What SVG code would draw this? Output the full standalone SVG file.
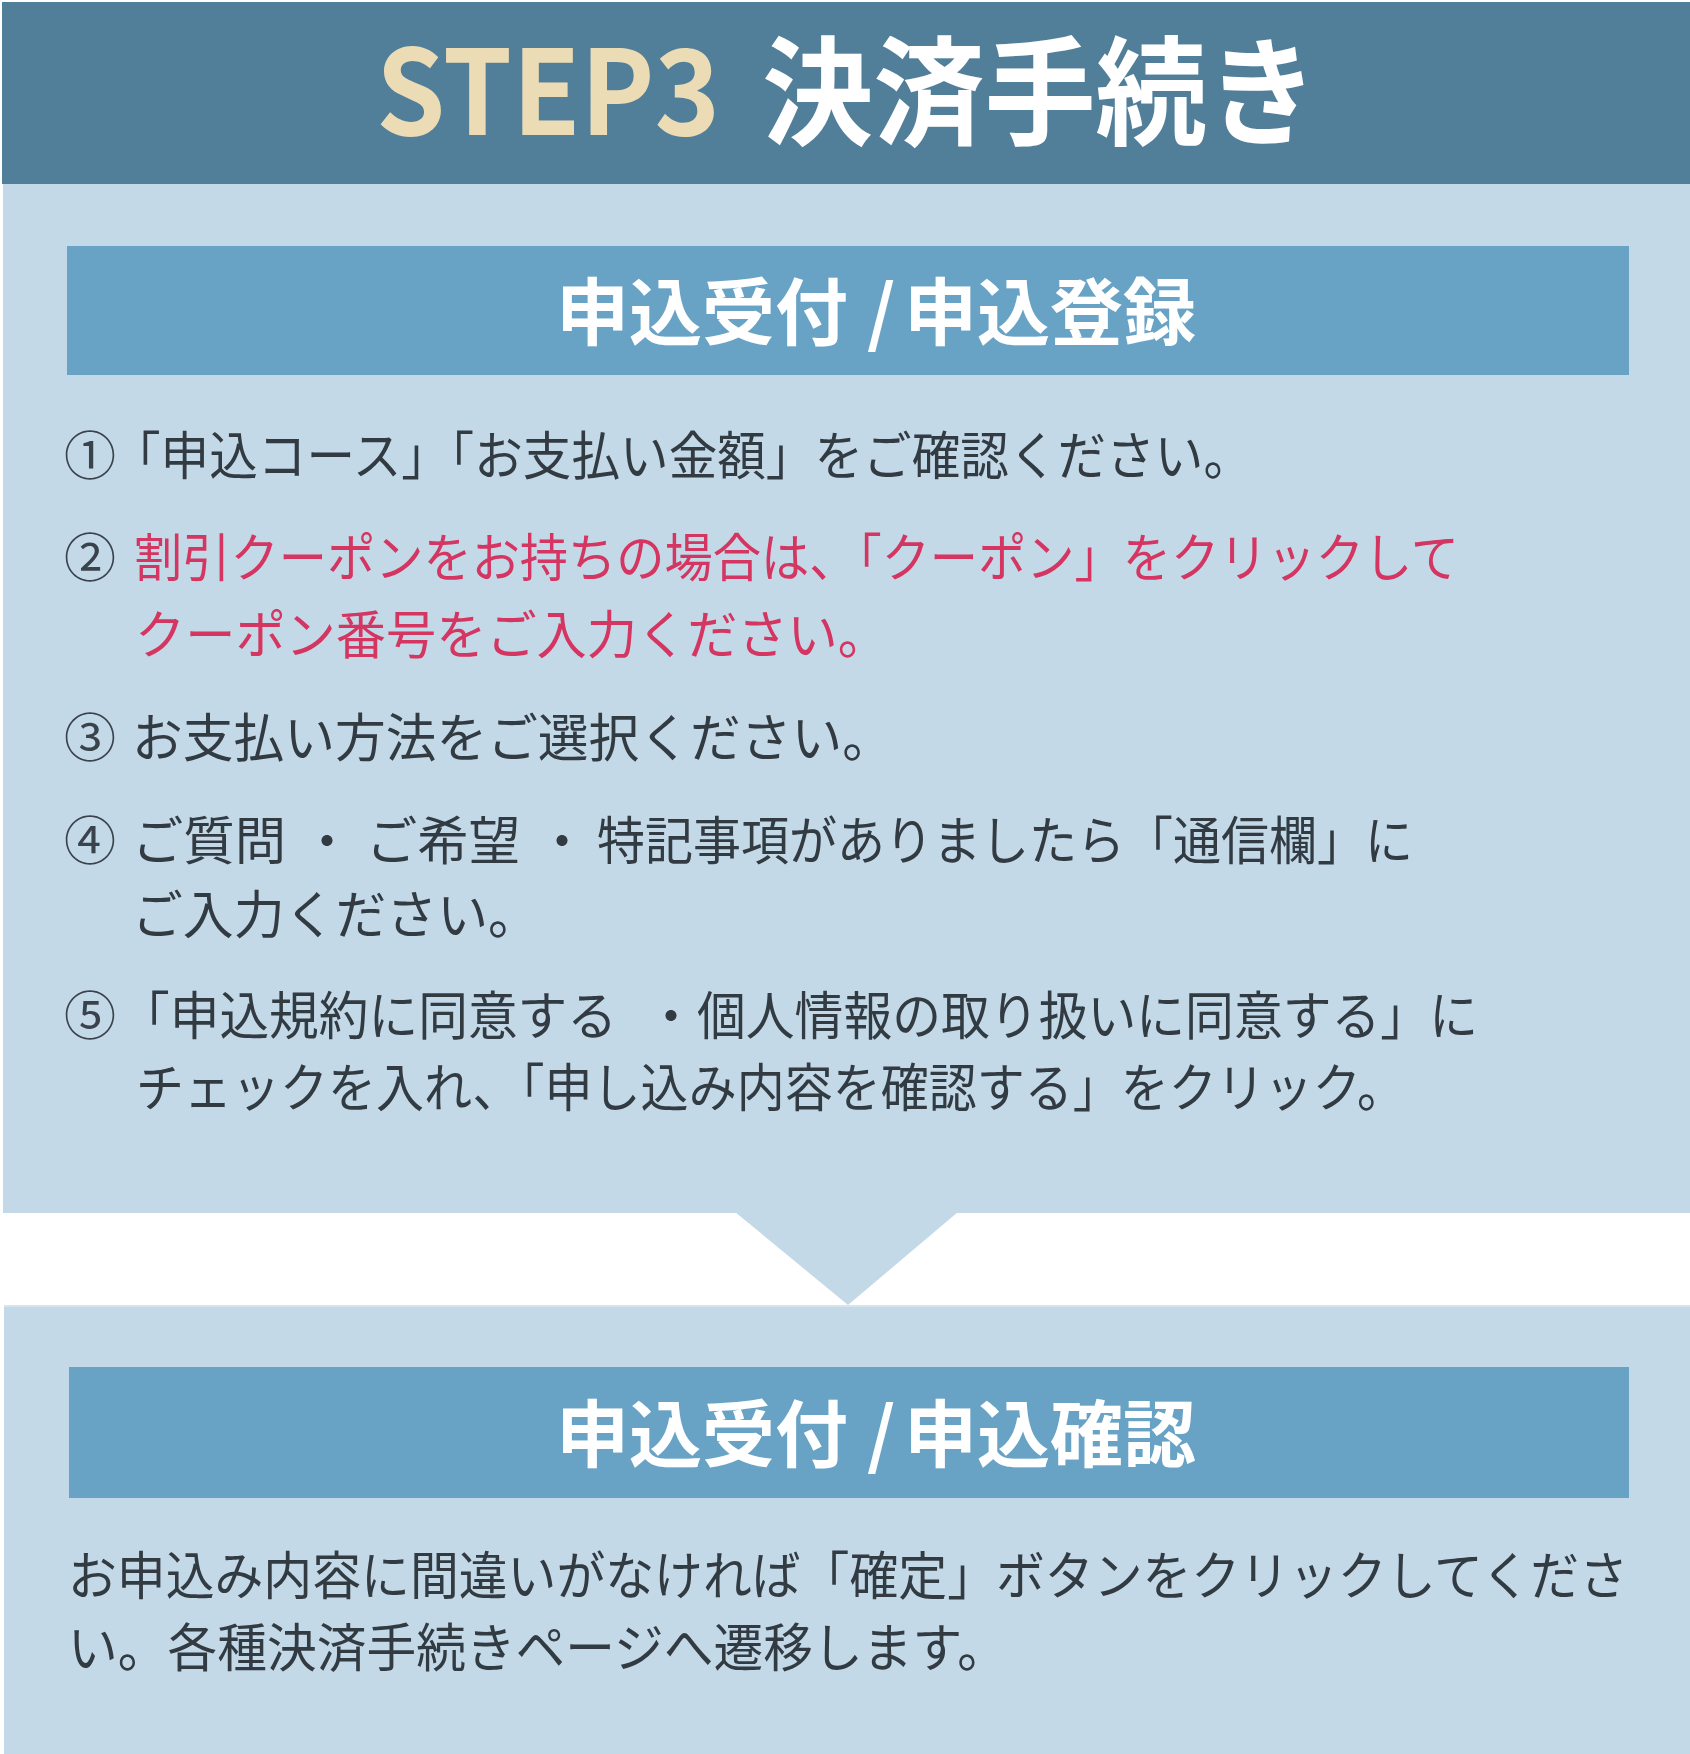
<svg xmlns="http://www.w3.org/2000/svg" width="1690" height="1754" viewBox="0 0 1690 1754">
<style>
.jp{font-family:"Noto Sans CJK JP","Noto Sans CJK SC",sans-serif;}
.body{font-size:52px;fill:#323a42;}
.red{fill:#d43561;}
.num{font-size:52px;fill:#3a434c;}
.h1{font-size:118px;font-weight:700;}
.h2{font-size:73px;font-weight:700;fill:#ffffff;}
.panel{fill:#c3d9e8;}
.sub{fill:#68a3c6;}
</style>
<rect x="0" y="0" width="1690" height="1754" fill="#ffffff"/>
<g id="header">
<rect x="2" y="2" width="1688" height="182" fill="#517e99"/>
<text class="jp h1" x="376" y="135" fill="#ecdcb5" textLength="344" lengthAdjust="spacingAndGlyphs">STEP3</text>
<text class="jp h1" x="762" y="136" fill="#ffffff" textLength="556" lengthAdjust="spacingAndGlyphs">決済手続き</text>
</g>
<g id="panel1">
<rect class="panel" x="3" y="184" width="1687" height="1029"/>
<rect class="sub" x="67" y="246" width="1562" height="129"/>
<text class="jp h2" x="556" y="339">申込受付</text>
<text class="jp h2" x="867" y="339">/</text>
<text class="jp h2" x="904" y="339">申込登録</text>
<g id="item1">
<text class="jp num" x="64" y="475">①</text>
<text class="jp body" x="112" y="475" textLength="1140" lengthAdjust="spacingAndGlyphs">「申込コース」「お支払い金額」をご確認ください。</text>
</g>
<g id="item2">
<text class="jp num" x="64" y="577">②</text>
<text class="jp body red" x="134" y="577" textLength="1325" lengthAdjust="spacingAndGlyphs">割引クーポンをお持ちの場合は、「クーポン」をクリックして</text>
<text class="jp body red" x="135" y="654" textLength="753" lengthAdjust="spacingAndGlyphs">クーポン番号をご入力ください。</text>
</g>
<g id="item3">
<text class="jp num" x="64" y="757">③</text>
<text class="jp body" x="132" y="757" textLength="761" lengthAdjust="spacingAndGlyphs">お支払い方法をご選択ください。</text>
</g>
<g id="item4">
<text class="jp num" x="64" y="860">④</text>
<text class="jp body" x="132" y="860" textLength="154" lengthAdjust="spacingAndGlyphs">ご質問</text>
<text class="jp body" x="301" y="860">・</text>
<text class="jp body" x="366" y="860" textLength="154" lengthAdjust="spacingAndGlyphs">ご希望</text>
<text class="jp body" x="536" y="860">・</text>
<text class="jp body" x="597" y="860" textLength="816" lengthAdjust="spacingAndGlyphs">特記事項がありましたら「通信欄」に</text>
<text class="jp body" x="132" y="934" textLength="407" lengthAdjust="spacingAndGlyphs">ご入力ください。</text>
</g>
<g id="item5">
<text class="jp num" x="64" y="1035">⑤</text>
<text class="jp body" x="120" y="1035" textLength="497" lengthAdjust="spacingAndGlyphs">「申込規約に同意する</text>
<text class="jp body" x="645" y="1035">・</text>
<text class="jp body" x="697" y="1035" textLength="781" lengthAdjust="spacingAndGlyphs">個人情報の取り扱いに同意する」に</text>
<text class="jp body" x="136" y="1107" textLength="1269" lengthAdjust="spacingAndGlyphs">チェックを入れ、「申し込み内容を確認する」をクリック。</text>
</g>
</g>
<g id="connectors">
<polygon class="panel" points="735,1212 958,1212 848,1305"/>
</g>
<g id="panel2">
<rect x="4" y="1305" width="1686" height="2" fill="#d6e4ee"/>
<rect class="panel" x="4" y="1307" width="1686" height="447"/>
<rect class="sub" x="69" y="1367" width="1560" height="131"/>
<text class="jp h2" x="556" y="1461">申込受付</text>
<text class="jp h2" x="867" y="1461">/</text>
<text class="jp h2" x="904" y="1461">申込確認</text>
<text class="jp body" x="68" y="1595" textLength="1560" lengthAdjust="spacingAndGlyphs">お申込み内容に間違いがなければ「確定」ボタンをクリックしてくださ</text>
<text class="jp body" x="68" y="1667" textLength="939" lengthAdjust="spacingAndGlyphs">い。各種決済手続きページへ遷移します。</text>
</g>
</svg>
